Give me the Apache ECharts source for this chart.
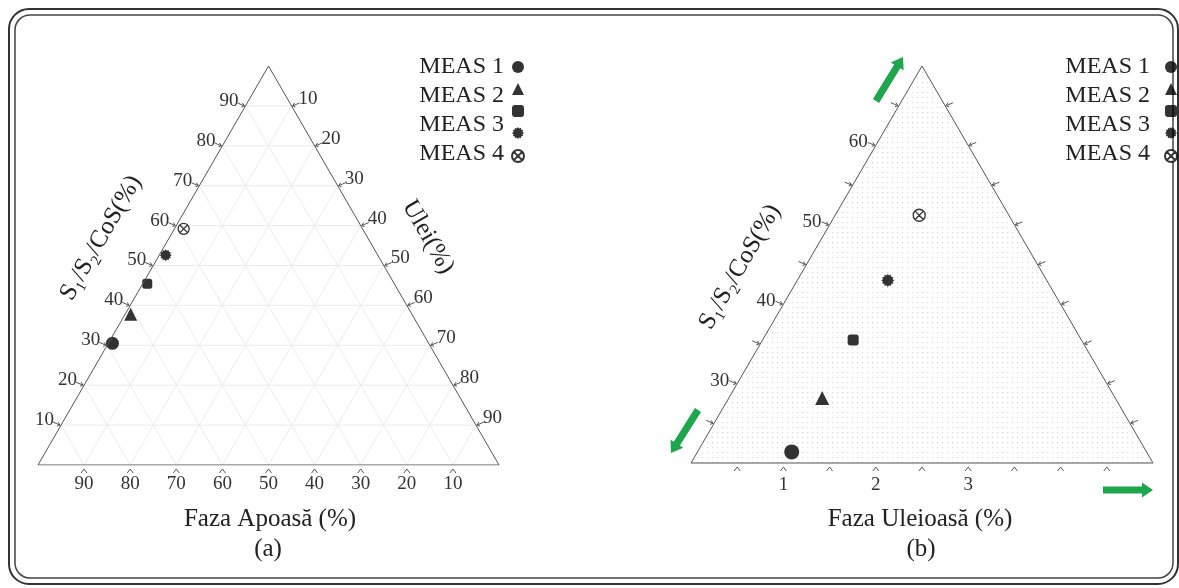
<!DOCTYPE html>
<html>
<head>
<meta charset="utf-8">
<script src="https://cdn.jsdelivr.net/npm/echarts@6/dist/echarts.min.js"></script>
<style>
    html, body { margin: 0; background: #fff; }
    #chart { width: 1179px; height: 588px; }
</style>
</head>
<body>
<div id="chart"></div>
<script>
// series names (the legend shows 5 symbols but only 4 labels)
var measNames = ['MEAS 1', 'MEAS 2', 'MEAS 2b', 'MEAS 3', 'MEAS 4'];
var legendLabels = ['MEAS 1', 'MEAS 2', 'MEAS 3', 'MEAS 4'];

// (a) full diagram, %
var aCoS = [30.5, 37.8, 45.4, 52.6, 59.2];
var aUlei = [0.9, 1.2, 1.0, 1.4, 2.0];
var aTicks = [10, 20, 30, 40, 50, 60, 70, 80, 90];

// (b) zoomed diagram
var bCoS = [21.4, 28.2, 35.5, 43.0, 51.2];
var bUlei = [1.02, 1.01, 0.98, 0.98, 0.91];
var bCoSRange = [20, 70];
var bUleiRange = [0, 5];
var bCoSTicks = [25, 30, 35, 40, 45, 50, 55, 60, 65];
var bCoSLabels = [30, 40, 50, 60];
var bUleiTicks = [0.5, 1, 1.5, 2, 2.5, 3, 3.5, 4, 4.5];
var bUleiLabels = [1, 2, 3];

var serif = '"Liberation Serif", "DejaVu Serif", serif';
var edgeColor = '#555';

// ternary -> cartesian (x,y in % of the triangle side / height)
function ta(s, u) {
    return [u + s / 2, s];
}
function tb(s, u) {
    var h = (s - bCoSRange[0]) / (bCoSRange[1] - bCoSRange[0]) * 100;
    var w = (u - bUleiRange[0]) / (bUleiRange[1] - bUleiRange[0]) * 100;
    return [w + h / 2, h];
}

function gearPath(n) {
    var d = '';
    for (var k = 0; k < 2 * n; k++) {
        var r = k % 2 ? 7.6 : 10;
        var a = Math.PI * k / n;
        d += (k ? 'L' : 'M') + (r * Math.cos(a)).toFixed(2) + ',' + (r * Math.sin(a)).toFixed(2);
    }
    return 'path://' + d + 'Z';
}
var otimesPath = 'path://M10,0A10,10 0 1,1 -10,0A10,10 0 1,1 10,0Z M-6.5,-6.5L6.5,6.5M6.5,-6.5L-6.5,6.5';

var symbols = ['circle', 'triangle', 'roundRect', gearPath(12), otimesPath];
var sizesA = [13, 13, 10, 12, 11];
var sizesB = [15, 14, 11, 13, 12];

// tick marks (relative pixel offsets)
var markBottom = [[[-3, 8], [0, 4], [3, 8]]];
var markLeft = [[[-8, -3], [-1, 0]], [[-4, 1], [-1, 0], [-3, -3]]];
var markRight = [[[8, -3], [1, 0]], [[4, 1], [1, 0], [3, -3]]];

function tickSeries(gi, items) {
    return {
        type: 'custom', xAxisIndex: gi, yAxisIndex: gi, silent: true, clip: false,
        data: items.map(function (it) { return it.pos; }),
        renderItem: function (params, api) {
            var it = items[params.dataIndex];
            var p = api.coord(it.pos);
            var children = it.mark.map(function (line) {
                return {
                    type: 'polyline',
                    shape: {points: line.map(function (d) { return [p[0] + d[0], p[1] + d[1]]; })},
                    style: {stroke: edgeColor, lineWidth: 1, fill: null}
                };
            });
            if (it.label !== '') {
                children.push({
                    type: 'text', x: p[0] + it.dx, y: p[1] + it.dy,
                    style: {text: it.label, textAlign: it.align, textVerticalAlign: 'middle',
                        font: '19px ' + serif, fill: '#333'}
                });
            }
            return {type: 'group', children: children};
        }
    };
}

function segSeries(gi, segs, color) {
    return {
        type: 'custom', xAxisIndex: gi, yAxisIndex: gi, silent: true, clip: false,
        data: segs,
        renderItem: function (params, api) {
            var p1 = api.coord([api.value(0), api.value(1)]);
            var p2 = api.coord([api.value(2), api.value(3)]);
            return {type: 'line', shape: {x1: p1[0], y1: p1[1], x2: p2[0], y2: p2[1]},
                style: {stroke: color, lineWidth: 1}};
        }
    };
}

// ---- panel (a) pieces
var aGrid = [];
aTicks.forEach(function (v) {
    aGrid.push(ta(v, 0).concat(ta(v, 100 - v)));          // constant S1/S2/CoS
    aGrid.push(ta(0, v).concat(ta(100 - v, v)));          // constant Ulei
    aGrid.push(ta(0, 100 - v).concat(ta(100 - v, 0)));    // constant Apoasa
});
var aTri = [ta(0, 0), ta(100, 0), ta(0, 100), ta(0, 0)];
var aTickItems = [];
aTicks.forEach(function (v) {
    aTickItems.push({pos: ta(v, 0), mark: markLeft, label: String(v), align: 'right', dx: -7, dy: -5});
    aTickItems.push({pos: ta(100 - v, v), mark: markRight, label: String(v), align: 'left', dx: 7, dy: -7});
    aTickItems.push({pos: ta(0, 100 - v), mark: markBottom, label: String(v), align: 'center', dx: 0, dy: 19});
});

// ---- panel (b) pieces
var bTri = tb(bCoSRange[0], bUleiRange[0]).concat(tb(bCoSRange[1], bUleiRange[0]), tb(bCoSRange[0], bUleiRange[1]));
var bTickItems = [];
bCoSTicks.forEach(function (v) {
    bTickItems.push({pos: tb(v, 0), mark: markLeft,
        label: bCoSLabels.indexOf(v) >= 0 ? String(v) : '', align: 'right', dx: -8, dy: -3});
    var f = (v - bCoSRange[0]) / (bCoSRange[1] - bCoSRange[0]);
    bTickItems.push({pos: tb(v, bUleiRange[1] * (1 - f)), mark: markRight, label: '', align: 'left', dx: 0, dy: 0});
});
bUleiTicks.forEach(function (v) {
    bTickItems.push({pos: tb(bCoSRange[0], v), mark: markBottom,
        label: bUleiLabels.indexOf(v) >= 0 ? String(v) : '', align: 'center', dx: 0, dy: 22});
});

// dotted background pattern for (b)
var pat = document.createElement('canvas');
pat.width = 5; pat.height = 5;
var pctx = pat.getContext('2d');
pctx.fillStyle = '#dadada';
pctx.fillRect(2, 2, 1.2, 1.2);

function arrow(tail, tip) {
    var dx = tip[0] - tail[0], dy = tip[1] - tail[1];
    var len = Math.sqrt(dx * dx + dy * dy);
    var ux = dx / len, uy = dy / len, nx = -uy, ny = ux;
    var hl = 11, sw = 3.6, hw = 7.5;
    var bx = tip[0] - ux * hl, by = tip[1] - uy * hl;
    return {
        type: 'polygon', silent: true,
        shape: {points: [
            [tail[0] + nx * sw, tail[1] + ny * sw], [bx + nx * sw, by + ny * sw], [bx + nx * hw, by + ny * hw],
            tip, [bx - nx * hw, by - ny * hw], [bx - nx * sw, by - ny * sw], [tail[0] - nx * sw, tail[1] - ny * sw]
        ]},
        style: {fill: '#1ea64c'}
    };
}

function txt(text, x, y, size, align, rot) {
    return {
        type: 'text', x: x, y: y, rotation: rot || 0, silent: true,
        style: {text: text, textAlign: align || 'center', textVerticalAlign: 'middle',
            font: size + 'px ' + serif, fill: '#222'}
    };
}

var series = [
    segSeries(0, aGrid, '#ebebeb'),
    {type: 'line', xAxisIndex: 0, yAxisIndex: 0, data: aTri, symbol: 'none', silent: true,
        lineStyle: {color: edgeColor, width: 1}},
    tickSeries(0, aTickItems),
    {
        type: 'custom', xAxisIndex: 1, yAxisIndex: 1, silent: true, clip: false,
        data: [bTri],
        renderItem: function (params, api) {
            var pts = [0, 2, 4].map(function (i) { return api.coord([api.value(i), api.value(i + 1)]); });
            return {type: 'polygon', shape: {points: pts},
                style: {fill: {image: pat, repeat: 'repeat'}, stroke: edgeColor, lineWidth: 1}};
        }
    },
    tickSeries(1, bTickItems)
];
measNames.forEach(function (name, i) {
    var st = i === 4 ? {color: '#fff', borderColor: '#000', borderWidth: 1.3} : {color: '#000'};
    series.push({name: name, type: 'scatter', xAxisIndex: 0, yAxisIndex: 0,
        symbol: symbols[i], symbolSize: sizesA[i], itemStyle: st, data: [ta(aCoS[i], aUlei[i])]});
    series.push({name: name, type: 'scatter', xAxisIndex: 1, yAxisIndex: 1,
        symbol: symbols[i], symbolSize: sizesB[i], itemStyle: st, data: [tb(bCoS[i], bUlei[i])]});
});

function mkLegend(left) {
    return {
        orient: 'vertical', left: left, top: 61, padding: 0,
        itemWidth: 12, itemHeight: 12, itemGap: 10,
        selectedMode: false, data: measNames, formatter: function () { return ''; },
        textStyle: {fontSize: 10}
    };
}

var graphic = [
    {type: 'rect', silent: true, shape: {x: 9, y: 9, width: 1169, height: 575, r: 20},
        style: {fill: null, stroke: '#333', lineWidth: 2}},
    {type: 'rect', silent: true, shape: {x: 15, y: 15, width: 1158, height: 563, r: 15},
        style: {fill: null, stroke: '#444', lineWidth: 1.5}},
    txt('Faza Apoasă (%)', 270, 519, 25),
    txt('(a)', 268, 549, 25),
    txt('Faza Uleioasă (%)', 920, 519, 25),
    txt('(b)', 921, 549, 25),
    txt('S₁/S₂/CoS(%)', 101, 238, 25, 'center', Math.PI / 3),
    txt('Ulei(%)', 428, 237, 25, 'center', -Math.PI / 3),
    txt('S₁/S₂/CoS(%)', 740, 267, 25, 'center', Math.PI / 3),
    arrow([876, 101], [903, 57]),
    arrow([698, 410], [671, 453]),
    arrow([1103, 490], [1153, 490])
];
legendLabels.forEach(function (t, i) {
    graphic.push(txt(t, 504, 67 + i * 29, 24, 'right'));
    graphic.push(txt(t, 1150, 67 + i * 29, 24, 'right'));
});

var chart = echarts.init(document.getElementById('chart'));
chart.setOption({
    animation: false,
    grid: [
        {left: 38, top: 66, width: 461, height: 399},
        {left: 691, top: 66, width: 462, height: 397}
    ],
    xAxis: [
        {type: 'value', gridIndex: 0, min: 0, max: 100, show: false},
        {type: 'value', gridIndex: 1, min: 0, max: 100, show: false}
    ],
    yAxis: [
        {type: 'value', gridIndex: 0, min: 0, max: 100, show: false},
        {type: 'value', gridIndex: 1, min: 0, max: 100, show: false}
    ],
    legend: [mkLegend(511), mkLegend(1164)],
    graphic: graphic,
    series: series
});
</script>
</body>
</html>
